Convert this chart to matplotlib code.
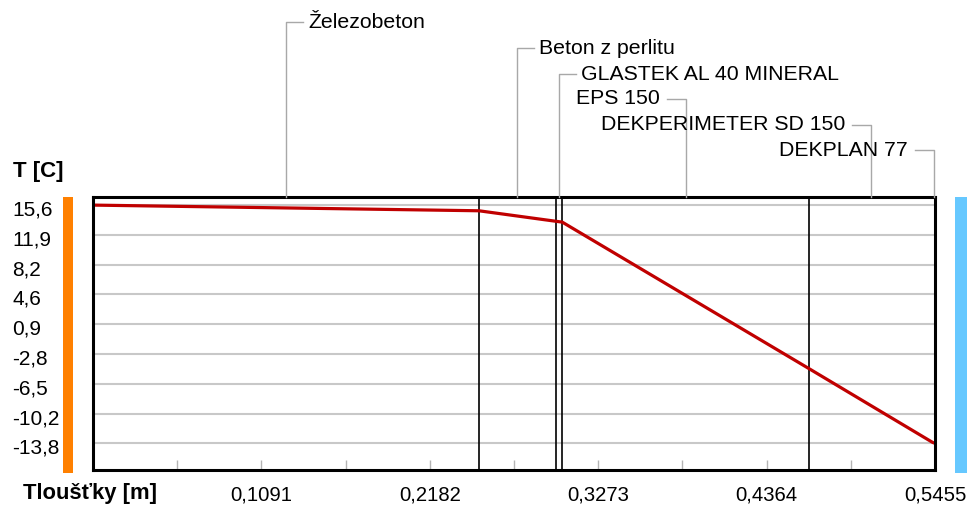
import matplotlib
matplotlib.use("Agg")
import matplotlib.pyplot as plt
import matplotlib.transforms as mtransforms
from matplotlib.lines import Line2D
from matplotlib.patches import Rectangle

plt.rcParams['font.family'] = ['Liberation Sans', 'DejaVu Sans']

# skladba konstrukce (tloustky vrstev v m) a teploty na rozhranich
layers = ['Železobeton', 'Beton z perlitu', 'GLASTEK AL 40 MINERAL',
          'EPS 150', 'DEKPERIMETER SD 150', 'DEKPLAN 77']
thickness = [0.25, 0.05, 0.004, 0.16, 0.08, 0.0015]
interface_temp = [15.6, 14.9, 13.6, 13.5, -4.6, -13.7, -13.8]

x_ticks = [0.1091, 0.2182, 0.3273, 0.4364, 0.5455]
x_minor = [0.05455, 0.16365, 0.27275, 0.38185, 0.49095]
y_ticks = [15.6, 11.9, 8.2, 4.6, 0.9, -2.8, -6.5, -10.2, -13.8]

bounds = [0.0]
for t in thickness:
    bounds.append(bounds[-1] + t)

W, H = 972, 507
fig = plt.figure(figsize=(W / 100, H / 100), dpi=100)
fig.patch.set_facecolor('white')

ax = fig.add_axes([93 / W, 1 - 470 / H, 842 / W, 273 / H])
ax.set_xlim(0, 0.5455)
ax.set_ylim(-17.1, 16.6)

ax.grid(axis='y', color='#c8c8c8', lw=1.5)
ax.set_axisbelow(True)

for b in bounds[1:-2]:
    ax.axvline(b, color='black', lw=1.2, zorder=2)

ax.plot(bounds, interface_temp, color='#c00000', lw=2.3, zorder=3,
        clip_on=False, solid_capstyle='butt')

for s in ax.spines.values():
    s.set_color('black')
    s.set_linewidth(2.2)
    s.set_zorder(4)

# osa x: popisky s desetinnou carkou, sede ryzky dovnitr
ax.set_xticks(x_ticks)
ax.set_xticklabels([f'{v:.4f}'.replace('.', ',') for v in x_ticks])
ax.set_xticks(x_minor, minor=True)
ax.tick_params(axis='x', which='both', direction='in', length=7, width=1,
               color='#b4b4b4', labelsize=14.6, pad=11)

ax.set_yticks(y_ticks)
ax.set_yticklabels([f'{v:.1f}'.replace('.', ',') for v in y_ticks])
ax.tick_params(axis='y', length=0, labelsize=15, pad=58)
shift = mtransforms.ScaledTranslation(0, -3 / 100, fig.dpi_scale_trans)
for lab in ax.get_yticklabels():
    lab.set_horizontalalignment('left')
    lab.set_transform(lab.get_transform() + shift)

# barevne pruhy vnitrni / vnejsi strany
fig.add_artist(Rectangle((63 / W, 1 - 473 / H), 10 / W, 276 / H,
                         transform=fig.transFigure, color='#ff8000', lw=0))
fig.add_artist(Rectangle((955 / W, 1 - 473 / H), 12 / W, 276 / H,
                         transform=fig.transFigure, color='#66c8ff', lw=0))

fig.text(13 / W, 1 - 172 / H, 'T [C]', fontsize=16, fontweight='bold',
         ha='left', va='center')
fig.text(23 / W, 1 - 493 / H, 'Tloušťky [m]', fontsize=15.8, fontweight='bold',
         ha='left', va='center')

# popisky vrstev s odkazovymi carami
label_y = [22, 48, 74, 99, 125, 150]
label_right = [True, True, True, False, False, False]
trans = mtransforms.blended_transform_factory(ax.transData, fig.transFigure)
ident = mtransforms.IdentityTransform()
for i, name in enumerate(layers):
    mid = (bounds[i] + bounds[i + 1]) / 2
    x0, y0 = trans.transform((mid, 1 - 197 / H))
    _, y1 = trans.transform((mid, 1 - label_y[i] / H))
    x1 = x0 + 17 if label_right[i] else x0 - 19
    fig.add_artist(Line2D([x0, x0, x1], [y0, y1, y1], transform=ident,
                          color='#a8a8a8', lw=1))
    if label_right[i]:
        fig.text(x1 + 5, y1, name, transform=ident, fontsize=15.3,
                 ha='left', va='center')
    else:
        fig.text(x1 - 7, y1, name, transform=ident, fontsize=15.3,
                 ha='right', va='center')

fig.savefig('out.png', dpi=100)
